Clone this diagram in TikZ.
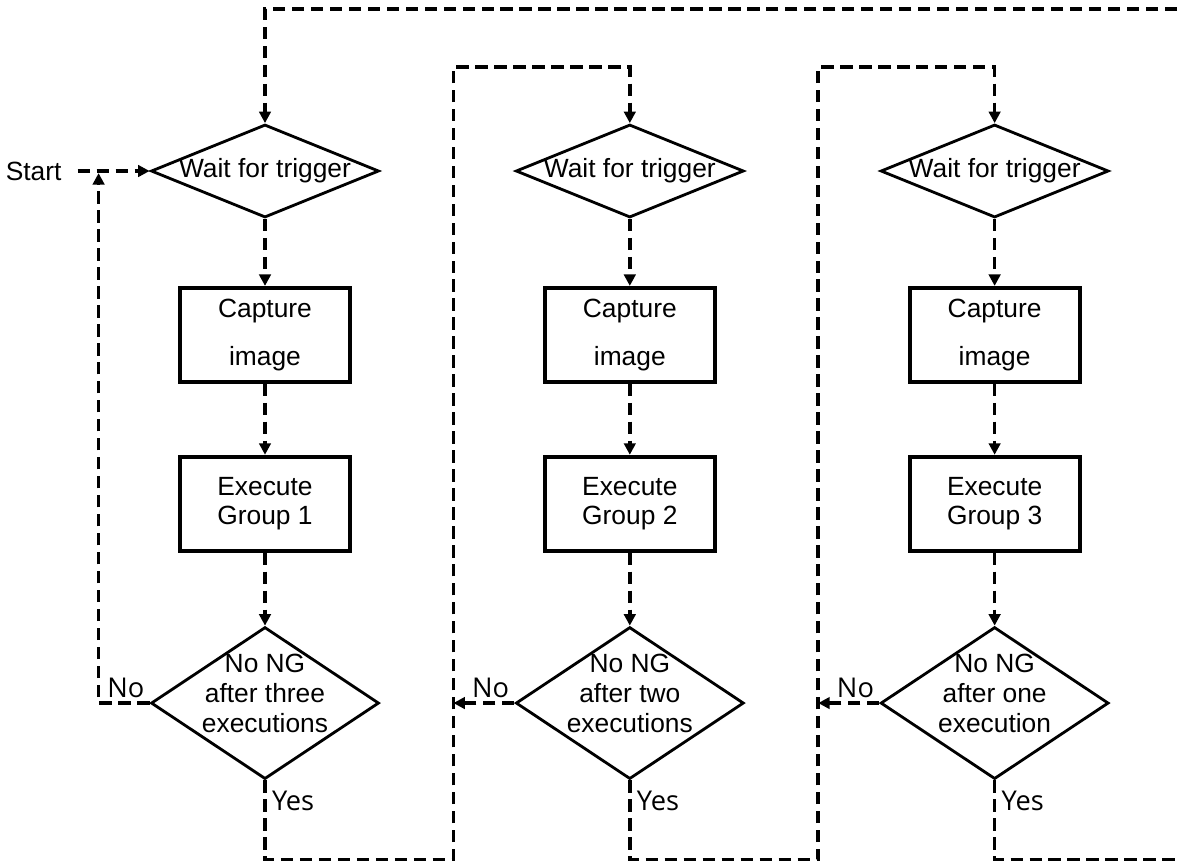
\documentclass[tikz,border=0pt]{standalone}
\usepackage{fontspec}
\setmainfont{Liberation Sans}
\newfontfamily\answerfont{Open Sans}
\usetikzlibrary{shapes.geometric, arrows.meta, positioning}

\begin{document}
\begin{tikzpicture}[
    font=\fontsize{15}{17}\selectfont,
    flow/.style={line width=2pt, dash pattern=on 7pt off 3.8pt, -{Triangle[length=6.5pt,width=6.5pt]}},
    wait/.style={diamond, draw, line width=1.6pt, aspect=2.45, inner xsep=-4pt, inner ysep=0pt, minimum width=4.56cm, minimum height=1.86cm},
    check/.style={diamond, draw, line width=1.6pt, aspect=1.5, inner xsep=-15pt, inner ysep=0pt, minimum width=4.56cm, minimum height=3.04cm, align=center},
    task/.style={rectangle, draw, line width=2.2pt, minimum width=3.4cm, minimum height=1.88cm, align=center},
    answer/.style={font=\answerfont\fontsize{15.5}{17}\selectfont, inner sep=2pt}
]
        \useasboundingbox (0,0) rectangle (23.56,-17.22);

        \node[wait] (wait1) at (5.30,-3.42) {Wait for trigger};
        \node[task] (cap1) [below=1.34cm of wait1] {Capture\\[10pt]image};
        \node[task] (exe1) [below=1.42cm of cap1] {Execute\\Group 1};
        \node[check] (chk1) [below=1.46cm of exe1] {No NG\\after three\\executions\\[-6pt]};

        \node[wait] (wait2) [right=2.68cm of wait1] {Wait for trigger};
        \node[task] (cap2) [below=1.34cm of wait2] {Capture\\[10pt]image};
        \node[task] (exe2) [below=1.42cm of cap2] {Execute\\Group 2};
        \node[check] (chk2) [below=1.46cm of exe2] {No NG\\after two\\executions\\[-6pt]};

        \node[wait] (wait3) [right=2.68cm of wait2] {Wait for trigger};
        \node[task] (cap3) [below=1.34cm of wait3] {Capture\\[10pt]image};
        \node[task] (exe3) [below=1.42cm of cap3] {Execute\\Group 3};
        \node[check] (chk3) [below=1.46cm of exe3] {No NG\\after one\\execution\\[-6pt]};

        \node[inner xsep=9pt] (start) [left=1.44cm of wait1] {Start};

        % corners of the loops
        \coordinate[right=0.42cm of start.east] (merge);
        \coordinate[right=1.46cm of chk1.east] (bus2);
        \coordinate[right=1.46cm of chk2.east] (bus3);
        \coordinate[right=1.42cm of chk3.east] (bus4);
        \coordinate[below=1.58cm of chk1.south] (floor);
        \coordinate[above=2.28cm of wait1.north] (roof1);
        \coordinate[above=1.12cm of wait2.north] (roof2);
        \coordinate[above=1.12cm of wait3.north] (roof3);

        \path[flow]
        (start) edge (wait1)
        (wait1) edge (cap1)
        (cap1) edge (exe1)
        (exe1) edge (chk1)
        (wait2) edge (cap2)
        (cap2) edge (exe2)
        (exe2) edge (chk2)
        (wait3) edge (cap3)
        (cap3) edge (exe3)
        (exe3) edge (chk3);

        \draw[flow, shorten >=1.2pt] (chk1.west) -| (merge) node[answer, pos=0, above left] {No};
        \draw[flow] (chk2.west) -- (bus2 |- chk2.west) node[answer, pos=0, above left] {No};
        \draw[flow] (chk3.west) -- (bus3 |- chk3.west) node[answer, pos=0, above left] {No};

        \draw[flow] (chk1.south) node[answer, below right=3pt and 1pt] {Yes} |- (floor -| bus2) |- (roof2) -- (wait2.north);
        \draw[flow] (chk2.south) node[answer, below right=3pt and 1pt] {Yes} |- (floor -| bus3) |- (roof3) -- (wait3.north);
        \draw[flow] (chk3.south) node[answer, below right=3pt and 1pt] {Yes} |- (floor -| bus4) |- (roof1) -- (wait1.north);

\end{tikzpicture}
\end{document}
